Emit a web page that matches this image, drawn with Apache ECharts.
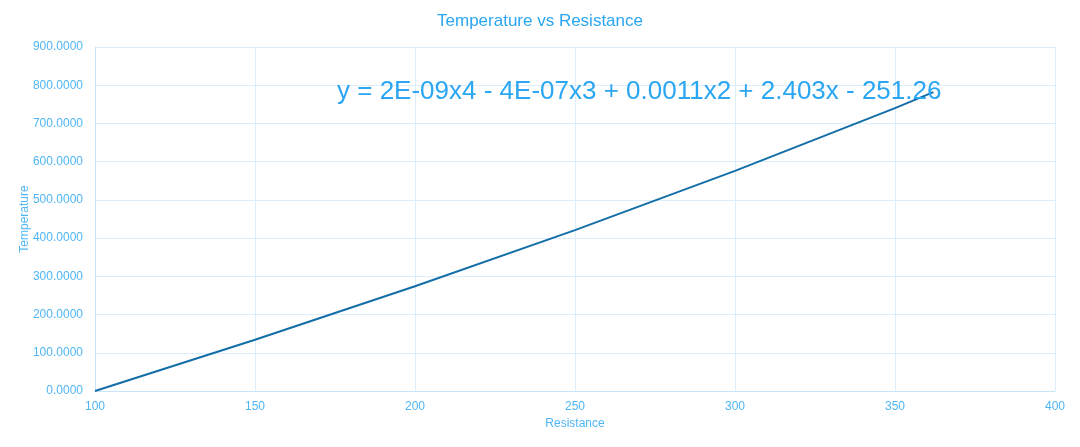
<!DOCTYPE html>
<html lang="en">
<head>
    <meta charset="UTF-8">
    <title>Temperature vs Resistance</title>
    <script src="https://cdn.jsdelivr.net/npm/echarts@6/dist/echarts.min.js"></script>
    <style>
        html, body { margin: 0; padding: 0; background: #fff; }
    </style>
</head>
<body>
<div id="chartBox" style="width: 1080px; height: 447px;"></div>
<script>
    // values
    var resistance = [100, 150, 200, 250, 300, 350, 362];
    var temperature = [0, 134, 274, 421, 576, 740, 782];
    var trendText = 'y = 2E-09x4 - 4E-07x3 + 0.0011x2 + 2.403x - 251.26';

    var points = [];
    for (var i = 0; i < resistance.length; i++) {
        points.push([resistance[i], temperature[i]]);
    }

    var font = 'Liberation Sans, Arial, sans-serif';
    var labelColor = '#4fb6f4';
    var gridColor = '#dcedfb';

    var chart = echarts.init(document.getElementById('chartBox'));
    chart.setOption({
        animation: false,
        title: {
            text: 'Temperature vs Resistance',
            left: 'center',
            top: 8,
            textStyle: { color: '#2aa6f2', fontSize: 17, fontWeight: 'normal', fontFamily: font }
        },
        grid: { left: 95, right: 25, top: 47, bottom: 56 },
        xAxis: {
            type: 'value',
            min: 100,
            max: 400,
            interval: 50,
            name: 'Resistance',
            nameLocation: 'middle',
            nameGap: 27,
            nameTextStyle: { color: labelColor, fontSize: 12, fontFamily: font },
            axisLine: { show: true, lineStyle: { color: '#c8e4f8' } },
            axisTick: { show: false },
            axisLabel: { color: labelColor, fontSize: 12, fontFamily: font, margin: 10 },
            splitLine: { show: true, lineStyle: { color: gridColor } }
        },
        yAxis: {
            type: 'value',
            min: 0,
            max: 900,
            interval: 100,
            name: 'Temperature',
            nameLocation: 'middle',
            nameGap: 64,
            nameMoveOverlap: false,
            nameTextStyle: { color: labelColor, fontSize: 12, fontFamily: font },
            axisLine: { show: true, lineStyle: { color: '#c8e4f8' } },
            axisTick: { show: false },
            axisLabel: {
                color: labelColor, fontSize: 12, fontFamily: font, margin: 12,
                formatter: function (v) { return v.toFixed(4); }
            },
            splitLine: { show: true, lineStyle: { color: gridColor } }
        },
        series: [{
            type: 'line',
            data: points,
            showSymbol: false,
            smooth: false,
            lineStyle: { color: '#136ea8', width: 2 }
        }],
        graphic: [{
            type: 'text',
            left: 337,
            top: 79,
            z: 10,
            style: {
                text: trendText,
                fill: '#2aa6f2',
                font: '26px ' + font
            }
        }]
    });
</script>
</body>
</html>
